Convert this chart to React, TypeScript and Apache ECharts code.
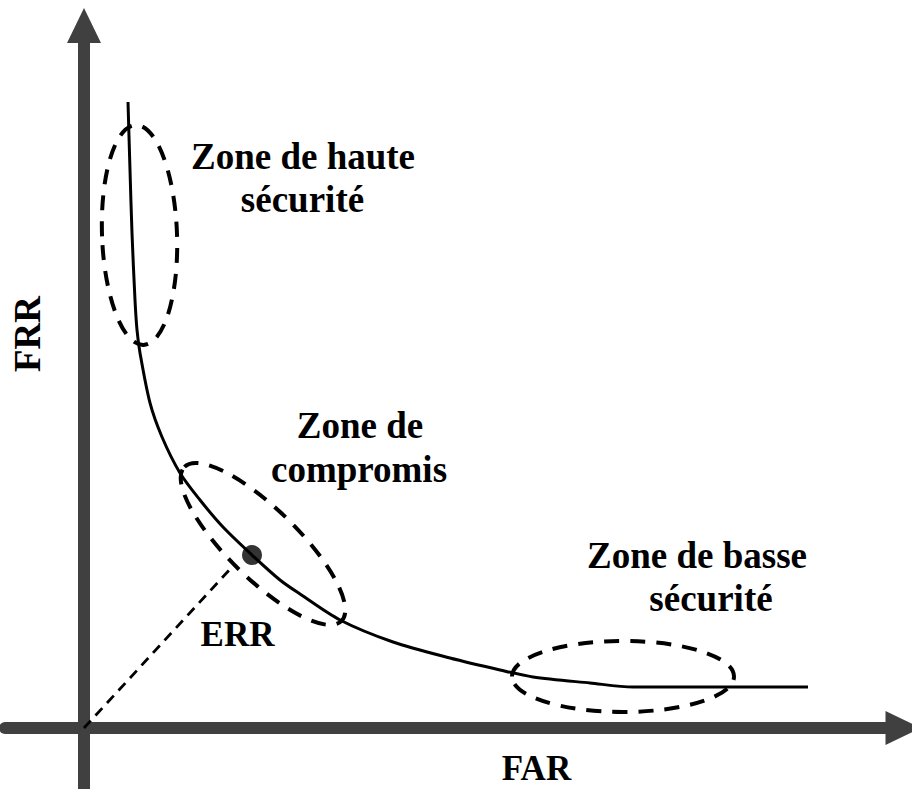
import React, { useEffect, useRef } from "react";
import * as echarts from "echarts";

// Curve of FRR versus FAR (arbitrary % units)
const curveFAR = [5.5, 5.75, 6.0, 6.375, 6.625, 7.0, 8.25, 9.75, 12.0, 14.5, 17.375, 21.0, 24.5, 27.0, 32.0, 38.625, 45.75, 52.0, 56.125, 63.25, 68.625, 81.125, 90.5];
const curveFRR = [89.43, 79.71, 70.71, 61.14, 56.86, 53.57, 46.43, 41.57, 36.43, 32.57, 28.71, 24.71, 21.14, 19.14, 15.43, 12.29, 10.0, 8.29, 7.29, 6.43, 5.86, 5.86, 5.86];

// Equal error point and its guide line from origin
const eerPoint = [21.0, 24.7];
const eerGuide = [[0, 0], [18.5, 23.0]];

// Zone centres (data space)
const zoneCentersFAR = [6.94, 22.375, 67.375];
const zoneCentersFRR = [70.43, 26.29, 7.36];

// Texts
const zoneTexts = [
  ["Zone de haute", "sécurité"],
  ["Zone de", "compromis"],
  ["Zone de basse", "sécurité"],
];
const eerLabel = "ERR";
const xName = "FAR";
const yName = "FRR";

const FONT = '"Liberation Serif", "Times New Roman", serif';

export default function App() {
  const ref = useRef<HTMLDivElement>(null);

  useEffect(() => {
    if (!ref.current) return;
    const chart = echarts.init(ref.current, null, { renderer: "svg" });
    const axisColor = "#404040";
    const axisLine = {
      show: true,
      onZero: true,
      symbol: ["none", "triangle"],
      symbolSize: [34, 35],
      lineStyle: { color: axisColor, width: 12 },
    };
    chart.setOption({
      animation: false,
      backgroundColor: "#ffffff",
      grid: { left: 5, right: 9, top: 25.5, bottom: 0, containLabel: false },
      xAxis: {
        type: "value",
        min: -9.875,
        max: 102.375,
        axisLine,
        axisTick: { show: false },
        axisLabel: { show: false },
        splitLine: { show: false },
      },
      yAxis: {
        type: "value",
        min: -8.714,
        max: 100.357,
        axisLine,
        axisTick: { show: false },
        axisLabel: { show: false },
        splitLine: { show: false },
      },
      series: [
        {
          type: "line",
          data: curveFAR.map((x, i) => [x, curveFRR[i]]),
          smooth: 0.3,
          symbol: "none",
          lineStyle: { color: "#000", width: 3 },
          z: 3,
        },
        {
          type: "line",
          data: eerGuide,
          symbol: "none",
          lineStyle: { color: "#000", width: 2.8, type: [10, 7] },
          z: 3,
        },
        {
          type: "scatter",
          data: [eerPoint],
          symbolSize: 20,
          itemStyle: { color: "#000" },
          z: 5,
        },
      ],
    });

    const toPx = (p: number[]) => chart.convertToPixel({ gridIndex: 0 }, p) as number[];
    const zoneShapes = [
      { rx: 37.5, ry: 110, rot: 0.036 },
      { rx: 110, ry: 35, rot: -0.775 },
      { rx: 111, ry: 35.5, rot: 0 },
    ];
    const ellipses = zoneShapes.map((s, i) => {
      const [cx, cy] = toPx([zoneCentersFAR[i], zoneCentersFRR[i]]);
      return {
        type: "ellipse",
        x: cx,
        y: cy,
        rotation: s.rot,
        shape: { cx: 0, cy: 0, rx: s.rx, ry: s.ry },
        style: { fill: "none", stroke: "#000", lineWidth: 4, lineDash: [15, 11] },
        z: 10,
      };
    });

    const txt = (text: string, x: number, y: number, size: number, rotation = 0) => ({
      type: "text",
      x,
      y,
      rotation,
      z: 20,
      style: {
        text,
        font: `bold ${size}px ${FONT}`,
        fill: "#000",
        textAlign: "center",
        align: "center",
        textVerticalAlign: "middle",
        verticalAlign: "middle",
      },
    });

    const textPos = [
      [[303, 156.5], [302.5, 199.5]],
      [[360, 425.5], [359, 469.5]],
      [[697, 555.5], [711, 598.5]],
    ];
    const texts: any[] = [];
    zoneTexts.forEach((lines, i) => {
      lines.forEach((line, j) => {
        texts.push(txt(line, textPos[i][j][0], textPos[i][j][1], 37));
      });
    });
    texts.push(txt(eerLabel, 237.5, 634, 35));
    texts.push(txt(xName, 536.5, 768, 35));
    texts.push(txt(yName, 27.5, 334, 37, Math.PI / 2));

    chart.setOption({ graphic: [...ellipses, ...texts] });

    return () => chart.dispose();
  }, []);

  return (
    <div
      ref={ref}
      style={{ position: "fixed", left: 0, top: 0, width: 912, height: 789 }}
    />
  );
}
